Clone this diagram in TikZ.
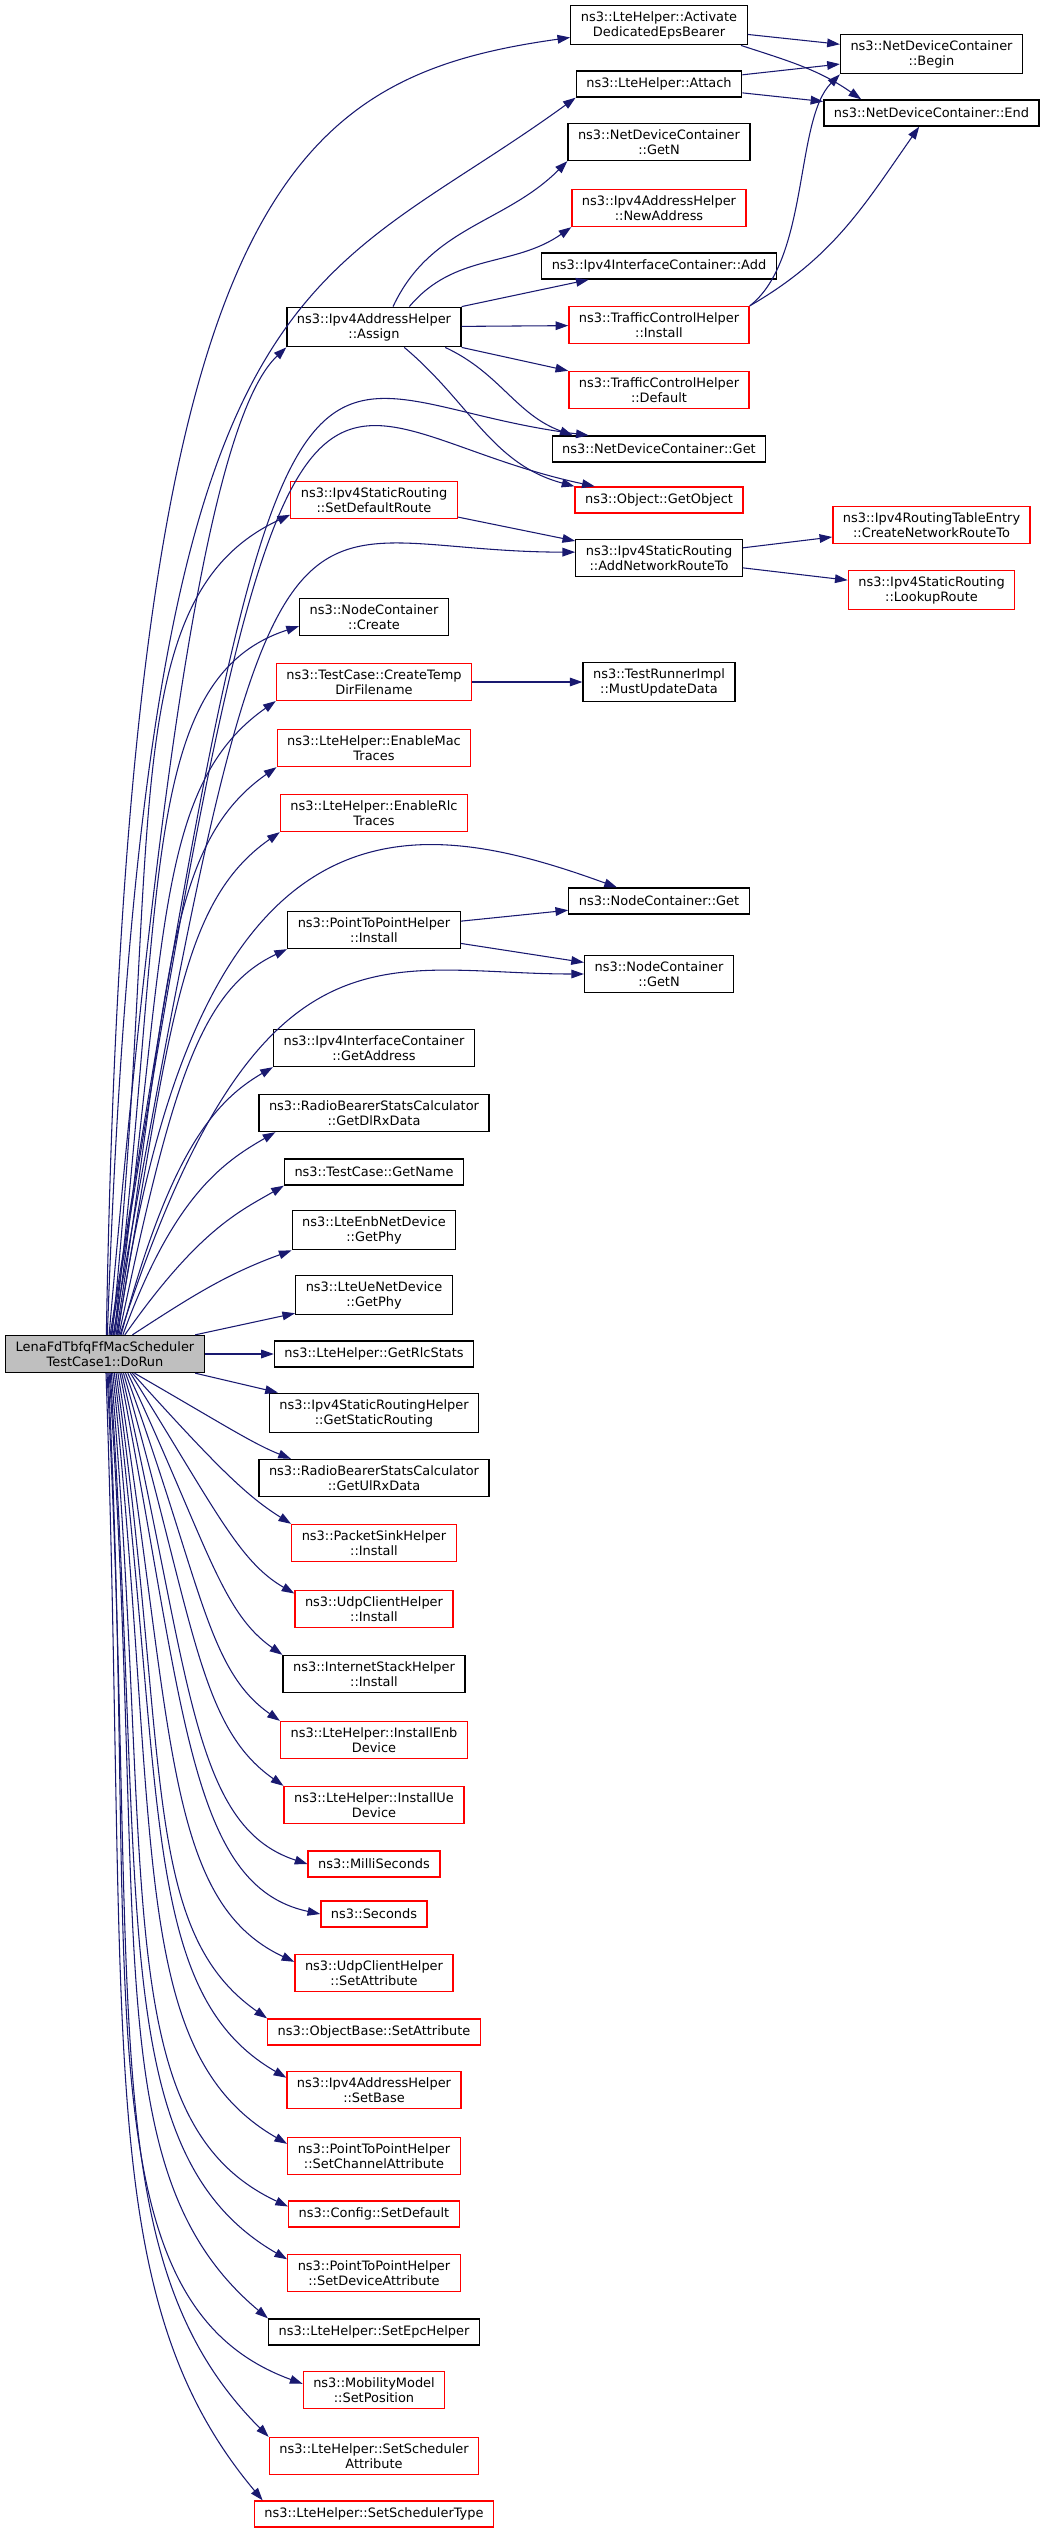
\documentclass[tikz,border=0pt]{standalone}
\usepackage{fontspec}
\setmainfont{DejaVu Sans}
\usetikzlibrary{arrows.meta}

\definecolor{edgeblue}{HTML}{191970}
\definecolor{undocred}{HTML}{FF0000}
\definecolor{rootgray}{HTML}{BFBFBF}

\tikzset{
  fn/.style={draw=black, line width=1pt, fill=white, align=center,
    inner xsep=7.5pt, inner ysep=4.5pt, minimum height=19.5pt,
    font=\fontsize{9.7pt}{11.25pt}\selectfont},
  fnr/.style={fn, draw=undocred},
  root/.style={fn, fill=rootgray},
  call/.style={->, color=edgeblue, line width=0.8pt},
  fan/.style={out looseness=1.5, in looseness=0.6}
}

\begin{document}
\begin{tikzpicture}[x=0.75pt, y=-0.75pt, >={Triangle[length=9.5pt,width=6.5pt]}]
  \useasboundingbox (0,0) rectangle (1045,2533);

  % Root
  \node[root] (main) at (105,1354) {LenaFdTbfqFfMacScheduler\\TestCase1::DoRun};

  % Right part of the graph
  \node[fn] (activate) at (659,25) {ns3::LteHelper::Activate\\DedicatedEpsBearer};
  \node[fn] (ndcbegin) at (931.5,54) {ns3::NetDeviceContainer\\::Begin};
  \node[fn] (attach) at (659,84) {ns3::LteHelper::Attach};
  \node[fn] (ndcend) at (931.5,113) {ns3::NetDeviceContainer::End};
  \node[fn] (ndcgetn) at (659,142) {ns3::NetDeviceContainer\\::GetN};
  \node[fnr] (newaddr) at (659,208) {ns3::Ipv4AddressHelper\\::NewAddress};
  \node[fn] (ifcadd) at (659,266) {ns3::Ipv4InterfaceContainer::Add};
  \node[fnr] (tchinstall) at (659,325) {ns3::TrafficControlHelper\\::Install};
  \node[fnr] (tchdefault) at (659,390) {ns3::TrafficControlHelper\\::Default};
  \node[fn] (ndcget) at (659,449) {ns3::NetDeviceContainer::Get};
  \node[fnr] (getobject) at (659,500) {ns3::Object::GetObject};
  \node[fn] (addroute) at (659,558) {ns3::Ipv4StaticRouting\\::AddNetworkRouteTo};
  \node[fnr] (createroute) at (931.5,525) {ns3::Ipv4RoutingTableEntry\\::CreateNetworkRouteTo};
  \node[fnr] (lookup) at (931.5,590) {ns3::Ipv4StaticRouting\\::LookupRoute};
  \node[fn] (mustupdate) at (659,682) {ns3::TestRunnerImpl\\::MustUpdateData};
  \node[fn] (ncget) at (659,901) {ns3::NodeContainer::Get};
  \node[fn] (ncgetn) at (659,974) {ns3::NodeContainer\\::GetN};

  % Middle column
  \node[fn] (assign) at (374,327) {ns3::Ipv4AddressHelper\\::Assign};
  \node[fnr] (setdefroute) at (374,500) {ns3::Ipv4StaticRouting\\::SetDefaultRoute};
  \node[fn] (nccreate) at (374,617) {ns3::NodeContainer\\::Create};
  \node[fnr] (tempdir) at (374,682) {ns3::TestCase::CreateTemp\\DirFilename};
  \node[fnr] (enablemac) at (374,748) {ns3::LteHelper::EnableMac\\Traces};
  \node[fnr] (enablerlc) at (374,813) {ns3::LteHelper::EnableRlc\\Traces};
  \node[fn] (p2pinstall) at (374,930) {ns3::PointToPointHelper\\::Install};
  \node[fn] (getaddress) at (374,1048) {ns3::Ipv4InterfaceContainer\\::GetAddress};
  \node[fn] (getdlrx) at (374,1113) {ns3::RadioBearerStatsCalculator\\::GetDlRxData};
  \node[fn] (getname) at (374,1172) {ns3::TestCase::GetName};
  \node[fn] (enbgetphy) at (374,1230) {ns3::LteEnbNetDevice\\::GetPhy};
  \node[fn] (uegetphy) at (374,1295) {ns3::LteUeNetDevice\\::GetPhy};
  \node[fn] (getrlc) at (374,1354) {ns3::LteHelper::GetRlcStats};
  \node[fn] (getstatic) at (374,1413) {ns3::Ipv4StaticRoutingHelper\\::GetStaticRouting};
  \node[fn] (getulrx) at (374,1478) {ns3::RadioBearerStatsCalculator\\::GetUlRxData};
  \node[fnr] (sinkinstall) at (374,1543) {ns3::PacketSinkHelper\\::Install};
  \node[fnr] (udpinstall) at (374,1609) {ns3::UdpClientHelper\\::Install};
  \node[fn] (stackinstall) at (374,1674) {ns3::InternetStackHelper\\::Install};
  \node[fnr] (installenb) at (374,1740) {ns3::LteHelper::InstallEnb\\Device};
  \node[fnr] (installue) at (374,1805) {ns3::LteHelper::InstallUe\\Device};
  \node[fnr] (millisec) at (374,1864) {ns3::MilliSeconds};
  \node[fnr] (seconds) at (374,1914) {ns3::Seconds};
  \node[fnr] (udpsetattr) at (374,1973) {ns3::UdpClientHelper\\::SetAttribute};
  \node[fnr] (objsetattr) at (374,2032) {ns3::ObjectBase::SetAttribute};
  \node[fnr] (setbase) at (374,2090) {ns3::Ipv4AddressHelper\\::SetBase};
  \node[fnr] (setchannel) at (374,2156) {ns3::PointToPointHelper\\::SetChannelAttribute};
  \node[fnr] (setdefault) at (374,2214) {ns3::Config::SetDefault};
  \node[fnr] (setdevice) at (374,2273) {ns3::PointToPointHelper\\::SetDeviceAttribute};
  \node[fn] (setepc) at (374,2332) {ns3::LteHelper::SetEpcHelper};
  \node[fnr] (setposition) at (374,2390) {ns3::MobilityModel\\::SetPosition};
  \node[fnr] (setschedattr) at (374,2456) {ns3::LteHelper::SetScheduler\\Attribute};
  \node[fnr] (setschedtype) at (374,2514) {ns3::LteHelper::SetSchedulerType};

  \path[call]
    % Calls from the root, upwards
    (main.86) edge[out=89, in=188, out distance=850pt, in distance=220pt] (activate.188)
    (main.83) edge[out=88, in=216, out distance=814pt, in distance=257pt] (attach.south west)
    (main.78) edge[out=85, in=223, out distance=450pt, in distance=75pt] (assign.south west)
    (main.75) edge[out=81, in=173, out distance=862pt, in distance=225pt] (ndcget.169)
    (main.72) edge[out=81, in=168, out distance=862pt, in distance=225pt] (getobject.168)
    (main.70) edge[fan, out=84, in=205] (setdefroute.190)
    (main.67) edge[out=80, in=180, out distance=712pt, in distance=225pt] (addroute.176)
    (main.65) edge[fan, out=83, in=198] (nccreate.187)
    (main.63) edge[fan, out=82, in=215] (tempdir.south west)
    (main.60) edge[fan, out=81, in=215] (enablemac.south west)
    (main.58) edge[fan, out=80, in=215] (enablerlc.south west)
    (main.56) edge[out=82, in=160, out distance=420pt, in distance=165pt] (ncget.162)
    (main.54) edge[fan, out=78, in=205] (p2pinstall.south west)
    (main.52) edge[out=72, in=180, out distance=338pt, in distance=150pt] (ncgetn.west)
    (main.50) edge[fan, out=75, in=210] (getaddress.south west)
    (main.47) edge[fan, out=70, in=210] (getdlrx.191)
    (main.44) edge[fan, out=55, in=210] (getname.south west)
    (main.35) edge[out=33, in=200] (enbgetphy.south west)
    (main.12) edge (uegetphy.193)
    (main) edge (getrlc)
    % Calls from the root, downwards
    (main.-12) edge (getstatic.168)
    (main.-33) edge[fan, out=-30, in=158] (getulrx.167)
    (main.-35) edge[fan, out=-48, in=148] (sinkinstall.north west)
    (main.-37) edge[fan, out=-58, in=150] (udpinstall.169)
    (main.-40) edge[fan, out=-65, in=145] (stackinstall.north west)
    (main.-43) edge[fan, out=-70, in=145] (installenb.north west)
    (main.-46) edge[fan, out=-74, in=145] (installue.north west)
    (main.-49) edge[fan, out=-77, in=162] (millisec.west)
    (main.-52) edge[fan, out=-79, in=168] (seconds.west)
    (main.-56) edge[fan, out=-81, in=155] (udpsetattr.172)
    (main.-60) edge[fan, out=-82, in=145] (objsetattr.north west)
    (main.-64) edge[fan, out=-83, in=150] (setbase.172)
    (main.-68) edge[fan, out=-84, in=150] (setchannel.172)
    (main.-72) edge[fan, out=-85, in=155] (setdefault.175)
    (main.-75) edge[fan, out=-86, in=150] (setdevice.171)
    (main.-78) edge[fan, out=-86, in=140] (setepc.north west)
    (main.-81) edge[fan, out=-87, in=160] (setposition.175)
    (main.-84) edge[fan, out=-87, in=135] (setschedattr.north west)
    (main.-87) edge[fan, out=-88, in=130] (setschedtype.173);

  \path[call]
    % Second level calls
    (activate) edge (ndcbegin)
    (activate.-14) edge[out=-18, in=145] (ndcend.169)
    (attach) edge (ndcbegin)
    (attach) edge (ndcend)
    (assign.47) edge[out=65, in=225] (ndcgetn.south west)
    (assign.30) edge[out=50, in=215] (newaddr.south west)
    (assign.north east) edge (ifcadd.191)
    (assign) edge (tchinstall)
    (assign.south east) edge (tchdefault.north west)
    (assign.-16) edge[out=-25, in=160] (ndcget.171)
    (assign.-34) edge[out=-40, in=165] (getobject.north west)
    (tchinstall.north east) edge[out=38, in=225, out distance=57pt, in distance=48pt] (ndcbegin.south west)
    (tchinstall.north east) edge[out=30, in=235] (ndcend.228)
    (setdefroute) edge (addroute)
    (addroute) edge (createroute)
    (addroute) edge (lookup)
    (tempdir) edge (mustupdate)
    (p2pinstall) edge (ncget)
    (p2pinstall) edge (ncgetn);
\end{tikzpicture}
\end{document}
